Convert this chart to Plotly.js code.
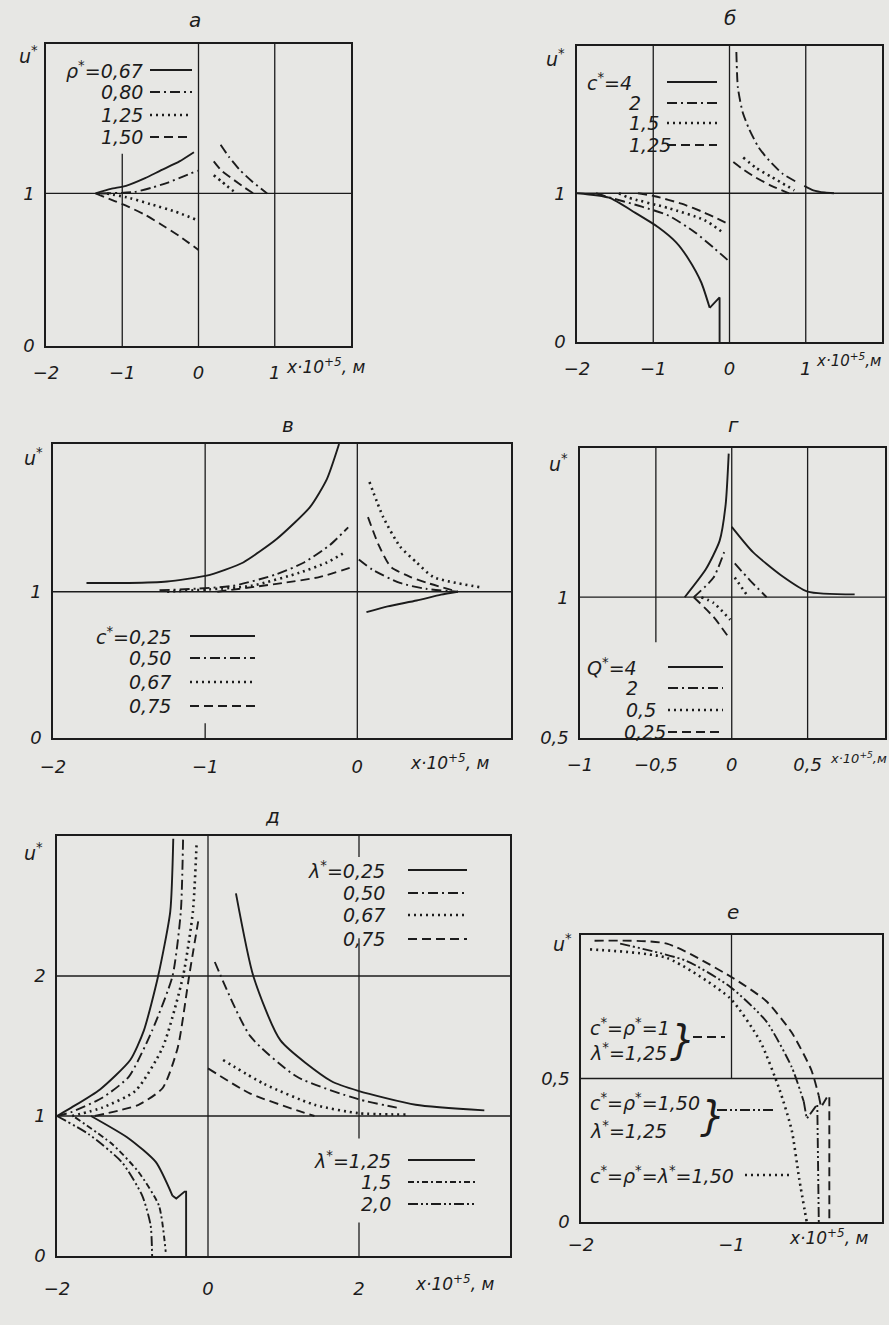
<!DOCTYPE html>
<html>
<head>
<meta charset="utf-8">
<script src="https://cdn.plot.ly/plotly-3.0.1.min.js"></script>
<style>
  body { margin: 0; background: #e6e6e3; }
  #graf { width: 889px; height: 1325px; }
</style>
</head>
<body>
<div id="graf"></div>
<script>
// --- panel а : rho* ---
let aRho067X = [-1.35, -1.15, -0.95, -0.7, -0.5, -0.25, -0.06];
let aRho067Y = [1.0, 1.03, 1.05, 1.1, 1.15, 1.21, 1.27];
let aRho080X = [-1.28, -0.84, -0.6, -0.41, -0.01];
let aRho080Y = [1.0, 1.01, 1.04, 1.07, 1.15];
let aRho080RX = [0.29, 0.4, 0.55, 0.7, 0.9];
let aRho080RY = [1.32, 1.24, 1.15, 1.08, 1.0];
let aRho125X = [-1.2, -0.9, -0.63, -0.3, -0.04];
let aRho125Y = [1.0, 0.97, 0.93, 0.88, 0.83];
let aRho125RX = [0.2, 0.3, 0.37, 0.5];
let aRho125RY = [1.12, 1.08, 1.05, 1.0];
let aRho150X = [-1.35, -1.1, -0.95, -0.7, -0.5, -0.25, 0.0];
let aRho150Y = [1.0, 0.95, 0.92, 0.86, 0.8, 0.72, 0.63];
let aRho150RX = [0.2, 0.3, 0.46, 0.6, 0.72];
let aRho150RY = [1.21, 1.15, 1.09, 1.04, 1.0];

// --- panel б : c* ---
let bC4X = [-2, -1.58, -1.24, -0.93, -0.7, -0.54, -0.37, -0.26, -0.13, -0.13];
let bC4Y = [1.0, 0.97, 0.87, 0.77, 0.67, 0.56, 0.40, 0.23, 0.30, 0];
let bC4RX = [0.98, 1.1, 1.25, 1.37];
let bC4RY = [1.05, 1.02, 1.005, 1.0];
let bC2X = [-1.75, -1.63, -1.15, -0.8, -0.46, -0.2, 0];
let bC2Y = [1.0, 0.98, 0.91, 0.85, 0.74, 0.63, 0.54];
let bC2RX = [0.09, 0.11, 0.17, 0.25, 0.38, 0.52, 0.7, 0.9];
let bC2RY = [1.95, 1.71, 1.55, 1.44, 1.31, 1.22, 1.13, 1.07];
let bC15X = [-1.45, -1.32, -0.8, -0.33, -0.07];
let bC15Y = [1.0, 0.97, 0.9, 0.82, 0.73];
let bC15RX = [0.18, 0.35, 0.55, 0.85];
let bC15RY = [1.24, 1.17, 1.11, 1.02];
let bC125X = [-1.2, -0.98, -0.63, -0.33, 0];
let bC125Y = [1.0, 0.98, 0.93, 0.87, 0.79];
let bC125RX = [0.05, 0.18, 0.33, 0.55, 0.78];
let bC125RY = [1.21, 1.16, 1.11, 1.05, 1.0];

// --- panel в : c* ---
let vC025X = [-1.78, -1.5, -1.25, -0.99, -0.87, -0.75, -0.53, -0.31, -0.2, -0.12];
let vC025Y = [1.06, 1.06, 1.07, 1.11, 1.15, 1.2, 1.36, 1.58, 1.77, 2.01];
let vC025RX = [0.06, 0.2, 0.39, 0.55, 0.66];
let vC025RY = [0.86, 0.9, 0.94, 0.98, 1.0];
let vC050X = [-1.3, -0.82, -0.53, -0.35, -0.18, -0.06];
let vC050Y = [1.01, 1.04, 1.12, 1.2, 1.32, 1.44];
let vC050RX = [0.01, 0.1, 0.28, 0.45, 0.66];
let vC050RY = [1.22, 1.15, 1.06, 1.02, 1.0];
let vC067X = [-1.25, -0.7, -0.38, -0.2, -0.08];
let vC067Y = [1.0, 1.04, 1.13, 1.2, 1.27];
let vC067RX = [0.08, 0.17, 0.28, 0.39, 0.5, 0.81];
let vC067RY = [1.75, 1.51, 1.31, 1.2, 1.1, 1.03];
let vC075X = [-0.92, -0.49, -0.25, -0.03];
let vC075Y = [1.0, 1.06, 1.1, 1.17];
let vC075RX = [0.07, 0.14, 0.22, 0.35, 0.46, 0.66];
let vC075RY = [1.51, 1.32, 1.17, 1.1, 1.06, 1.0];

// --- panel г : Q* ---
let gQ4X = [-0.31, -0.17, -0.08, -0.04, -0.02];
let gQ4Y = [1.0, 1.1, 1.2, 1.33, 1.51];
let gQ4RX = [0.0, 0.14, 0.32, 0.5, 0.81];
let gQ4RY = [1.25, 1.16, 1.08, 1.02, 1.01];
let gQ2X = [-0.25, -0.12, -0.05];
let gQ2Y = [1.0, 1.07, 1.16];
let gQ2RX = [0.02, 0.12, 0.23];
let gQ2RY = [1.12, 1.06, 1.0];
let gQ05X = [-0.2, -0.12, -0.01];
let gQ05Y = [1.0, 0.98, 0.92];
let gQ05RX = [0.02, 0.11];
let gQ05RY = [1.07, 1.0];
let gQ025X = [-0.25, -0.12, -0.01];
let gQ025Y = [1.0, 0.93, 0.85];

// --- panel д : lambda* ---
let dL025X = [-2, -1.81, -1.43, -1.03, -0.85, -0.66, -0.5, -0.46];
let dL025Y = [1.0, 1.06, 1.19, 1.4, 1.61, 2.0, 2.46, 2.98];
let dL025RX = [0.37, 0.6, 0.96, 1.63, 1.99, 2.75, 3.66];
let dL025RY = [2.59, 2.0, 1.54, 1.25, 1.18, 1.08, 1.04];
let dL050X = [-2, -1.8, -1.4, -1.05, -0.74, -0.47, -0.36, -0.33];
let dL050Y = [1.0, 1.03, 1.13, 1.28, 1.61, 2.0, 2.46, 2.98];
let dL050RX = [0.09, 0.56, 1.18, 1.99, 2.5];
let dL050RY = [2.1, 1.57, 1.28, 1.12, 1.06];
let dL067X = [-1.8, -1.4, -0.96, -0.6, -0.33, -0.2, -0.15];
let dL067Y = [1.0, 1.06, 1.18, 1.49, 2.0, 2.46, 2.96];
let dL067RX = [0.2, 0.74, 1.41, 1.99, 2.63];
let dL067RY = [1.40, 1.23, 1.08, 1.02, 1.01];
let dL075X = [-1.5, -0.92, -0.6, -0.4, -0.25, -0.13];
let dL075Y = [1.0, 1.08, 1.2, 1.49, 2.0, 2.39];
let dL075RX = [0.0, 0.56, 1.18, 1.41];
let dL075RY = [1.34, 1.16, 1.04, 1.0];
let dL125X = [-1.55, -1.05, -0.69, -0.47, -0.42, -0.31, -0.29, -0.29];
let dL125Y = [1.0, 0.84, 0.67, 0.43, 0.41, 0.46, 0.46, 0];
let dL15X = [-1.76, -1.27, -0.92, -0.65, -0.56];
let dL15Y = [0.99, 0.8, 0.6, 0.36, 0.03];
let dL20X = [-2, -1.58, -1.14, -0.87, -0.76, -0.74];
let dL20Y = [1.0, 0.87, 0.67, 0.43, 0.22, 0.0];

// --- panel е ---
let eC1X = [-1.91, -1.43, -0.99, -0.77, -0.6, -0.47, -0.42, -0.405, -0.36, -0.35, -0.35];
let eC1Y = [0.98, 0.97, 0.85, 0.77, 0.66, 0.53, 0.44, 0.40, 0.44, 0.44, 0];
let eC15X = [-1.74, -1.3, -1.01, -0.77, -0.6, -0.52, -0.5, -0.43, -0.42];
let eC15Y = [0.97, 0.91, 0.82, 0.70, 0.54, 0.42, 0.36, 0.41, 0];
let eAllX = [-1.94, -1.43, -1.01, -0.81, -0.68, -0.6, -0.55, -0.5];
let eAllY = [0.95, 0.92, 0.78, 0.63, 0.46, 0.32, 0.15, 0.0];

const W = 889, H = 1325;
const ink = '#1c1c1c';
const bg = '#e7e7e4';
const fnt = { family: 'DejaVu Sans', size: 18, color: ink, style: 'italic' };
const fntL = { family: 'DejaVu Sans', size: 19, color: ink, style: 'italic' };

const SOLID = 'solid';
const DASH = '9px,5px';
const DOT = '2px,4px';
const DASHDOT = '10px,4px,2px,4px';
const DASHDOTDOT = '10px,3px,2px,3px,2px,3px';
const WAVYDD = '6px,3px,2px,3px';

// panels: box in pixels [left, top, right, bottom]
let paneli = [
    { box: [46, 44, 351, 346], xr: [-2, 2], yr: [0, 1.98], xt: [-2, -1, 0, 1], xtt: ['−2', '−1', '0', '1'], yt: [0, 1], ytt: ['0', '1'], so: 10,
      grid: [[-1, 0, -1, 1.26], [0, 0, 0, 1.98], [1, 0, 1, 1.98], [-2, 1, 2, 1]] },
    { box: [577, 46, 882, 342], xr: [-2, 2], yr: [0, 1.99], xt: [-2, -1, 0, 1], xtt: ['−2', '−1', '0', '1'], yt: [0, 1], ytt: ['0', '1'], so: 10,
      grid: [[-1, 0, -1, 1.99], [0, 0, 0, 1.99], [1, 0, 1, 1.99], [-2, 1, 2, 1]] },
    { box: [53, 444, 511, 738], xr: [-2, 1.01], yr: [0, 2.01], xt: [-2, -1, 0], xtt: ['−2', '−1', '0'], yt: [0, 1], ytt: ['0', '1'], so: 12,
      grid: [[-1, 1, -1, 2.01], [-1, 0, -1, 0.1], [0, 0, 0, 2.01], [-2, 1, 1.01, 1]] },
    { box: [580, 448, 885, 738], xr: [-1, 1.01], yr: [0.5, 1.53], xt: [-1, -0.5, 0, 0.5], xtt: ['−1', '−0,5', '0', '0,5'], yt: [0.5, 1], ytt: ['0,5', '1'], so: 10,
      grid: [[-0.5, 0.84, -0.5, 1.53], [0, 0.5, 0, 1.53], [0.5, 0.5, 0.5, 1.53], [-1, 1, 1.01, 1]] },
    { box: [57, 836, 510, 1256], xr: [-2, 4], yr: [0, 3], xt: [-2, 0, 2], xtt: ['−2', '0', '2'], yt: [0, 1, 2], ytt: ['0', '1', '2'], so: 16,
      grid: [[0, 0, 0, 3], [2, 2.85, 2, 3], [2, 0.84, 2, 2.27], [2, 0, 2, 0.24], [-2, 1, 4, 1], [-2, 2, 4, 2]] },
    { box: [581, 935, 882, 1222], xr: [-2, 0], yr: [0, 1], xt: [-2, -1], xtt: ['−2', '−1'], yt: [0, 0.5], ytt: ['0', '0,5'], so: 6,
      grid: [[-1, 0.5, -1, 1], [-2, 0.5, 0, 0.5]] }
];

function osX(i) { return i == 0 ? 'x' : 'x' + (i + 1); }
function osY(i) { return i == 0 ? 'y' : 'y' + (i + 1); }

let sledi = [];
function dodaj(i, xs, ys, dash, oblika) {
    sledi.push({
        x: xs, y: ys, xaxis: osX(i), yaxis: osY(i),
        mode: 'lines', type: 'scatter', hoverinfo: 'skip', showlegend: false,
        line: { color: ink, width: dash == DOT ? 2.6 : 1.9, dash: dash, shape: oblika, smoothing: 0.6 }
    });
}
// n = number of smooth points; the rest (a sharp break) is drawn straight
function krivulja(i, xs, ys, dash, n) {
    if (!n) { dodaj(i, xs, ys, dash, 'spline'); return; }
    dodaj(i, xs.slice(0, n), ys.slice(0, n), dash, 'spline');
    dodaj(i, xs.slice(n - 1), ys.slice(n - 1), dash, 'linear');
}

// а
krivulja(0, aRho067X, aRho067Y, SOLID);
krivulja(0, aRho080X, aRho080Y, DASHDOT);
krivulja(0, aRho080RX, aRho080RY, DASHDOT);
krivulja(0, aRho125X, aRho125Y, DOT);
krivulja(0, aRho125RX, aRho125RY, DOT);
krivulja(0, aRho150X, aRho150Y, DASH);
krivulja(0, aRho150RX, aRho150RY, DASH);
// б
krivulja(1, bC4X, bC4Y, SOLID, 8);
krivulja(1, bC4RX, bC4RY, SOLID);
krivulja(1, bC2X, bC2Y, DASHDOT);
krivulja(1, bC2RX, bC2RY, DASHDOT);
krivulja(1, bC15X, bC15Y, DOT);
krivulja(1, bC15RX, bC15RY, DOT);
krivulja(1, bC125X, bC125Y, DASH);
krivulja(1, bC125RX, bC125RY, DASH);
// в
krivulja(2, vC025X, vC025Y, SOLID);
krivulja(2, vC025RX, vC025RY, SOLID);
krivulja(2, vC050X, vC050Y, DASHDOT);
krivulja(2, vC050RX, vC050RY, DASHDOT);
krivulja(2, vC067X, vC067Y, DOT);
krivulja(2, vC067RX, vC067RY, DOT);
krivulja(2, vC075X, vC075Y, DASH);
krivulja(2, vC075RX, vC075RY, DASH);
// г
krivulja(3, gQ4X, gQ4Y, SOLID);
krivulja(3, gQ4RX, gQ4RY, SOLID);
krivulja(3, gQ2X, gQ2Y, DASHDOT);
krivulja(3, gQ2RX, gQ2RY, DASHDOT);
krivulja(3, gQ05X, gQ05Y, DOT);
krivulja(3, gQ05RX, gQ05RY, DOT);
krivulja(3, gQ025X, gQ025Y, DASH);
// д
krivulja(4, dL025X, dL025Y, SOLID);
krivulja(4, dL025RX, dL025RY, SOLID);
krivulja(4, dL050X, dL050Y, DASHDOT);
krivulja(4, dL050RX, dL050RY, DASHDOT);
krivulja(4, dL067X, dL067Y, DOT);
krivulja(4, dL067RX, dL067RY, DOT);
krivulja(4, dL075X, dL075Y, DASH);
krivulja(4, dL075RX, dL075RY, DASH);
krivulja(4, dL125X, dL125Y, SOLID, 4);
krivulja(4, dL15X, dL15Y, WAVYDD);
krivulja(4, dL20X, dL20Y, DASHDOTDOT);
// е
krivulja(5, eC1X, eC1Y, DASH, 7);
krivulja(5, eC15X, eC15Y, DASHDOTDOT, 6);
krivulja(5, eAllX, eAllY, DOT);

function px(x) { return x / W; }
function py(y) { return 1 - y / H; }

let layout = {
    width: W, height: H,
    margin: { l: 0, r: 0, t: 0, b: 0 },
    paper_bgcolor: bg, plot_bgcolor: bg,
    showlegend: false,
    font: fnt,
    shapes: [], annotations: []
};

paneli.forEach((p, i) => {
    let k = i == 0 ? '' : String(i + 1);
    layout['xaxis' + k] = {
        domain: [px(p.box[0]), px(p.box[2])], range: p.xr, anchor: osY(i),
        showline: true, mirror: true, linecolor: ink, linewidth: 1.6,
        showgrid: false, zeroline: false, ticks: '',
        tickvals: p.xt, ticktext: p.xtt, tickfont: fnt, ticklabelstandoff: p.so, fixedrange: true
    };
    layout['yaxis' + k] = {
        domain: [py(p.box[3]), py(p.box[1])], range: p.yr, anchor: osX(i),
        showline: true, mirror: true, linecolor: ink, linewidth: 1.6,
        showgrid: false, zeroline: false, ticks: '',
        tickvals: p.yt, ticktext: p.ytt, tickfont: fnt, ticklabelstandoff: 6, fixedrange: true
    };
    p.grid.forEach(g => {
        layout.shapes.push({
            type: 'line', xref: osX(i), yref: osY(i),
            x0: g[0], y0: g[1], x1: g[2], y1: g[3],
            line: { color: ink, width: 1.3 }
        });
    });
});

const xNaslov = 'x·10<sup>+5</sup>, м';
const xNaslovK = 'x·10<sup>+5</sup>,м';
// texts, pixel positions [x, y, text, anchor, size]
let napisi = [
    [195, 20, 'а', 'center', 20], [730, 18, 'б', 'center', 20], [288, 425, 'в', 'center', 20],
    [733, 425, 'г', 'center', 20], [272, 816, 'д', 'center', 20], [733, 912, 'е', 'center', 20],
    [28, 55, 'u<sup>*</sup>', 'center', 19], [555, 58, 'u<sup>*</sup>', 'center', 19], [33, 457, 'u<sup>*</sup>', 'center', 19],
    [558, 463, 'u<sup>*</sup>', 'center', 19], [33, 852, 'u<sup>*</sup>', 'center', 19], [562, 943, 'u<sup>*</sup>', 'center', 19],
    [284, 366, xNaslov, 'left', 17], [814, 360, xNaslovK, 'left', 15],
    [408, 762, xNaslov, 'left', 17], [828, 758, xNaslovK, 'left', 13],
    [413, 1283, xNaslov, 'left', 17], [787, 1237, xNaslov, 'left', 17],
    // legend а
    [145, 70, 'ρ<sup>*</sup>=0,67', 'right'], [145, 92, '0,80', 'right'], [145, 115, '1,25', 'right'], [145, 137, '1,50', 'right'],
    // legend б
    [585, 82, 'c<sup>*</sup>=4', 'left'], [627, 103, '2', 'left'], [627, 123, '1,5', 'left'], [627, 145, '1,25', 'left'],
    // legend в
    [173, 636, 'c<sup>*</sup>=0,25', 'right'], [173, 658, '0,50', 'right'], [173, 682, '0,67', 'right'], [173, 706, '0,75', 'right'],
    // legend г
    [585, 667, 'Q<sup>*</sup>=4', 'left'], [624, 688, '2', 'left'], [624, 710, '0,5', 'left'], [622, 732, '0,25', 'left'],
    // legend д
    [387, 870, 'λ<sup>*</sup>=0,25', 'right'], [387, 893, '0,50', 'right'], [387, 915, '0,67', 'right'], [387, 939, '0,75', 'right'],
    [393, 1160, 'λ<sup>*</sup>=1,25', 'right'], [393, 1182, '1,5', 'right'], [393, 1204, '2,0', 'right'],
    // legend е
    [588, 1027, 'c<sup>*</sup>=ρ<sup>*</sup>=1', 'left'], [588, 1052, 'λ<sup>*</sup>=1,25', 'left'],
    [588, 1102, 'c<sup>*</sup>=ρ<sup>*</sup>=1,50', 'left'], [588, 1130, 'λ<sup>*</sup>=1,25', 'left'],
    [588, 1175, 'c<sup>*</sup>=ρ<sup>*</sup>=λ<sup>*</sup>=1,50', 'left']
];
napisi.forEach(n => {
    let f = Object.assign({}, fntL);
    if (n[4]) f.size = n[4];
    layout.annotations.push({
        xref: 'paper', yref: 'paper', x: px(n[0]), y: py(n[1]),
        text: n[2], showarrow: false, xanchor: n[3], yanchor: 'middle', font: f
    });
});
// brackets in panel е
[[682, 1040], [712, 1116]].forEach(b => {
    layout.annotations.push({
        xref: 'paper', yref: 'paper', x: px(b[0]), y: py(b[1]),
        text: '}', showarrow: false, xanchor: 'center', yanchor: 'middle',
        font: { family: 'DejaVu Sans', size: 40, color: ink }
    });
});

// legend swatches [x0, x1, y, dash]
let vzorci = [
    [150, 192, 70, SOLID], [150, 192, 92, DASHDOT], [150, 192, 115, DOT], [150, 192, 137, DASH],
    [667, 717, 82, SOLID], [667, 717, 103, DASHDOT], [667, 717, 123, DOT], [667, 717, 145, DASH],
    [190, 255, 636, SOLID], [190, 255, 658, DASHDOT], [190, 255, 682, DOT], [190, 255, 706, DASH],
    [668, 723, 667, SOLID], [668, 723, 688, DASHDOT], [668, 723, 710, DOT], [668, 723, 732, DASH],
    [408, 467, 870, SOLID], [408, 467, 893, DASHDOT], [408, 467, 915, DOT], [408, 467, 939, DASH],
    [408, 475, 1160, SOLID], [408, 475, 1182, WAVYDD], [408, 475, 1204, DASHDOTDOT],
    [693, 725, 1037, DASH], [717, 773, 1110, DASHDOTDOT], [745, 790, 1175, DOT]
];
vzorci.forEach(v => {
    layout.shapes.push({
        type: 'line', xref: 'paper', yref: 'paper',
        x0: px(v[0]), x1: px(v[1]), y0: py(v[2]), y1: py(v[2]),
        line: { color: ink, width: v[3] == DOT ? 2.6 : 1.9, dash: v[3] }
    });
});

Plotly.newPlot('graf', sledi, layout, { staticPlot: true });
</script>
</body>
</html>
